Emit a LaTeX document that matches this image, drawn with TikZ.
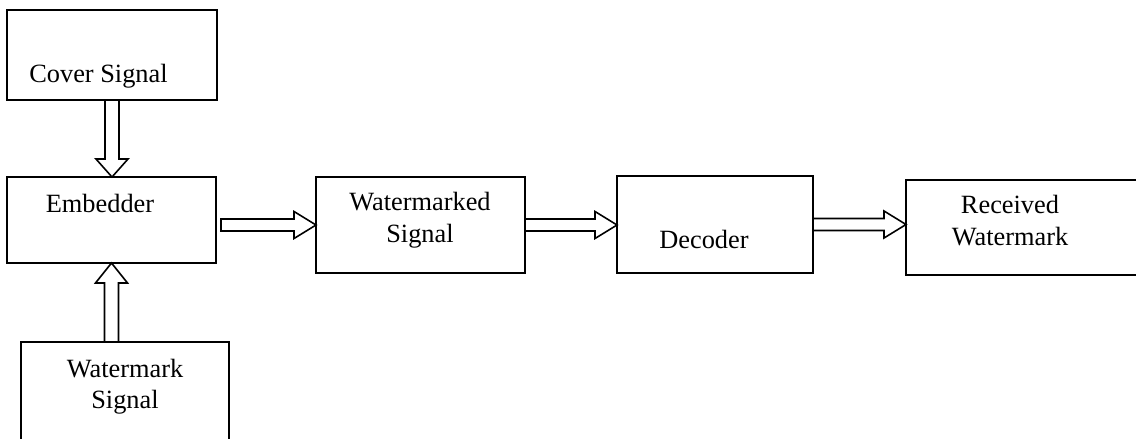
\documentclass[tikz,border=0pt]{standalone}
\usepackage{fontspec}
\setmainfont{Liberation Serif}
\usetikzlibrary{calc}
\tikzset{
  box/.style={draw, line width=1pt, inner sep=0pt, outer sep=0pt},
  lbl/.style={anchor=base, inner sep=0pt, font=\fontsize{15}{18}\selectfont},
  barrow/.style={draw, line width=0.9pt, fill=white, line join=miter}
}
\newcommand\hblock[2]{\draw[barrow] ($(#1)+(0,-6)$) -- ($(#2)+(-22,-6)$) -- ($(#2)+(-22,-13.5)$) -- (#2) -- ($(#2)+(-22,13.5)$) -- ($(#2)+(-22,6)$) -- ($(#1)+(0,6)$) -- cycle;}
\begin{document}
\begin{tikzpicture}[x=0.02cm, y=-0.02cm]
\useasboundingbox (0,0) rectangle (1136,439);
% boxes
\node[box, minimum width=4.2cm, minimum height=1.8cm] (cover) at (112,55) {};
\node[box, minimum width=4.18cm, minimum height=1.72cm] (emb) at (111.5,220) {};
\node[box, minimum width=4.16cm, minimum height=2.56cm] (wsig) at (125,406) {};
\node[box, minimum width=4.18cm, minimum height=1.92cm] (wm) at (420.5,225) {};
\node[box, minimum width=3.92cm, minimum height=1.94cm] (dec) at (715,224.5) {};
\node[box, minimum width=4.96cm, minimum height=1.9cm] (rec) at (1030,227.5) {};
% labels
\node[lbl] (tcover) at (98.5,83) {Cover Signal};
\node[lbl] (temb) at (100,212) {Embedder};
\node[lbl] (twsig1) at (125,377) {Watermark};
\node[lbl] (twsig2) at (125,408) {Signal};
\node[lbl] (twm1) at (420,210) {Watermarked};
\node[lbl] (twm2) at (420,242) {Signal};
\node[lbl] (tdec) at (704,248) {Decoder};
\node[lbl] (trec1) at (1010,214) {Received};
\node[lbl] (trec2) at (1010,245) {Watermark};
% connector end points
\coordinate (d1s) at (cover.south);
\coordinate (d1t) at (emb.north -| cover.south);
\coordinate (u1s) at (emb.south |- wsig.north);
\coordinate (u1t) at (emb.south);
\coordinate (a1s) at ($(emb.east |- wm.west)+(5,0)$);
\coordinate (a1t) at (wm.west);
\coordinate (a2s) at (wm.east);
\coordinate (a2t) at (dec.west |- wm.east);
\coordinate (a3s) at (dec.east);
\coordinate (a3t) at (rec.west |- dec.east);
% vertical block arrows
\draw[barrow] ($(d1s)+(-7,0)$) -- ($(d1t)+(-7,-18)$) -- ($(d1t)+(-16,-18)$) -- (d1t) -- ($(d1t)+(16,-18)$) -- ($(d1t)+(7,-18)$) -- ($(d1s)+(7,0)$) -- cycle;
\draw[barrow] ($(u1s)+(-7,0)$) -- ($(u1t)+(-7,20)$) -- ($(u1t)+(-16,20)$) -- (u1t) -- ($(u1t)+(16,20)$) -- ($(u1t)+(7,20)$) -- ($(u1s)+(7,0)$) -- cycle;
% horizontal block arrows
\hblock{a1s}{a1t}
\hblock{a2s}{a2t}
\hblock{a3s}{a3t}
\end{tikzpicture}
\end{document}
